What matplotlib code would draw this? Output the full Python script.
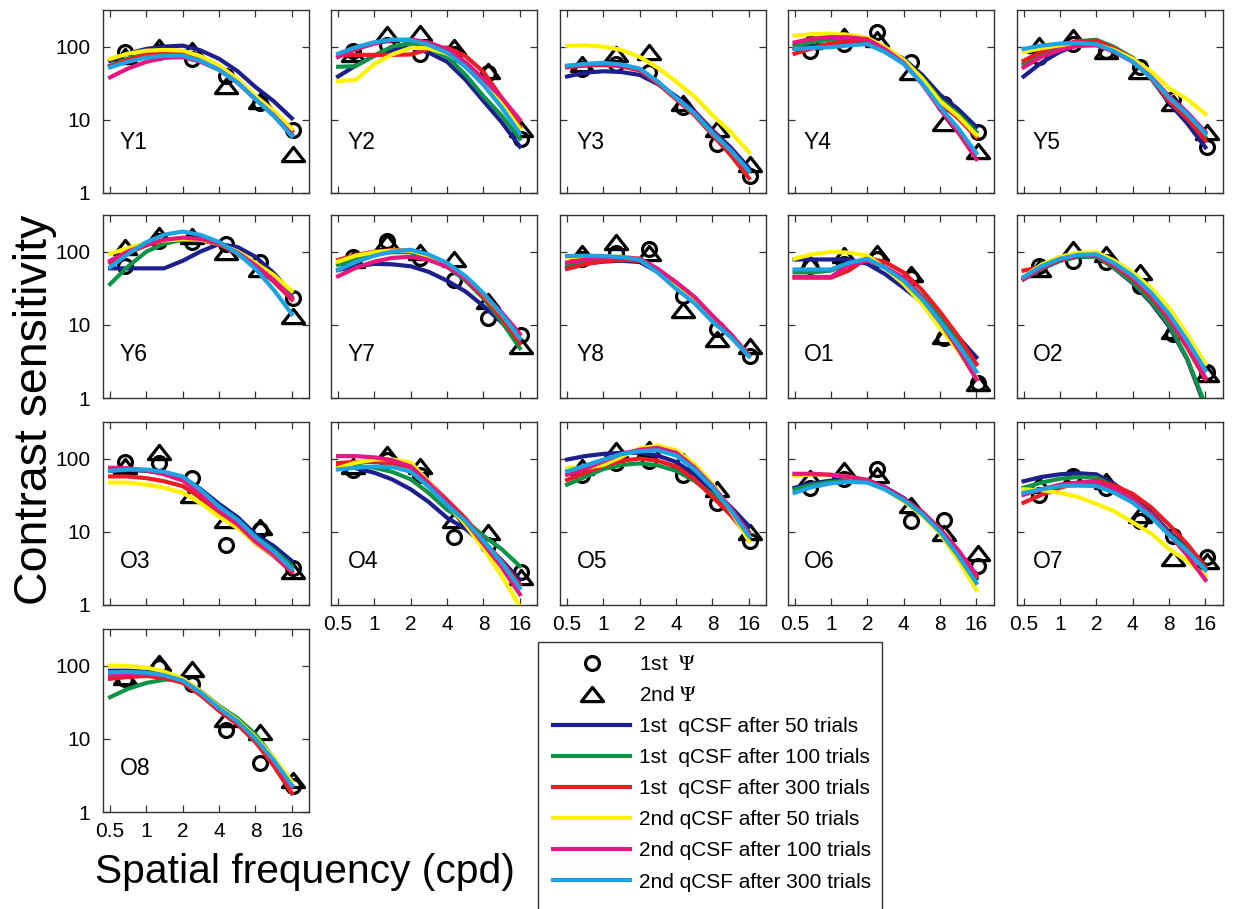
import matplotlib
matplotlib.use("Agg")
import matplotlib.pyplot as plt
from matplotlib.lines import Line2D
from matplotlib.patches import Rectangle
from matplotlib.path import Path

plt.rcParams["font.family"] = ["Liberation Sans", "DejaVu Sans"]
plt.rcParams["mathtext.fontset"] = "stix"

# frequencies (cpd) of the psi measurements and of the sampled qCSF curves
psi_freq = [0.67, 1.28, 2.4, 4.6, 8.7, 16.5]
curve_freq = [0.5, 0.7, 1, 1.4, 2, 2.8, 4, 5.7, 8, 11.3, 16]

series_labels = ["1st  qCSF after 50 trials", "1st  qCSF after 100 trials",
                 "1st  qCSF after 300 trials", "2nd qCSF after 50 trials",
                 "2nd qCSF after 100 trials", "2nd qCSF after 300 trials"]
series_colors = ["#1c1f8c", "#0e9447", "#ec1c24", "#fff200", "#e6177f", "#1ca3e2"]

# each qcsf list: 1st 50, 1st 100, 1st 300, 2nd 50, 2nd 100, 2nd 300
y1_first = [85, 85, 68, 40, 17, 7.2]
y1_second = [75, 100, 90, 29, 18, 3.4]
y1_qcsf = [[64, 80, 93, 100, 103, 89, 68, 46, 28, 18, 10.5],
           [55, 68, 80, 86, 86, 71, 52, 34, 20, 12.5, 7],
           [54, 66, 78, 84, 84, 70, 52, 34, 20, 12.5, 7],
           [68, 80, 88, 90, 88, 74, 55, 36, 21, 13.3, 7.5],
           [38, 50, 62, 70, 72, 62, 48, 32, 19, 11.6, 6.3],
           [52, 62, 71, 75, 75, 64, 48, 32, 19, 11.3, 6]]

y2_first = [88, 105, 80, 80, 44, 5.5]
y2_second = [78, 150, 155, 98, 47, 7.5]
y2_qcsf = [[39, 55, 75, 90, 98, 83, 62, 35, 18, 9.3, 4.3],
           [53, 54, 76, 100, 112, 95, 72, 41, 21, 11.4, 5.5],
           [77, 77, 77, 77, 78, 92, 97, 74, 45, 20, 8],
           [34, 35, 58, 78, 96, 95, 80, 54.5, 33, 16.7, 7.5],
           [72, 92, 110, 122, 125, 114, 92, 61, 36, 20, 10],
           [80, 98, 115, 125, 122, 106, 82, 52.5, 30, 14.8, 6.5]]

y3_first = [50, 58, 45, 15, 4.6, 1.7]
y3_second = [57, 80, 85, 17, 7.5, 2.5]
y3_qcsf = [[39, 44, 46, 45, 41, 31, 21, 13, 7.2, 4.2, 2.2],
           [53, 56, 57, 55, 48, 32.8, 20, 12.4, 6.8, 3.9, 2.0],
           [52, 55, 56, 54, 47, 31.7, 19, 11.5, 6.2, 3.3, 1.6],
           [103, 104, 100, 90, 72, 51.7, 33, 20.6, 11.5, 6.8, 3.6],
           [53, 57, 58, 56, 49, 33.2, 20, 12.4, 6.8, 3.9, 2.0],
           [55, 58, 60, 57, 50, 33.5, 20, 12.1, 6.5, 3.8, 2.0]]

y4_first = [88, 108, 157, 61, 16.5, 6.8]
y4_second = [121, 140, 127, 45, 9, 3.7]
y4_qcsf = [[93, 100, 108, 113, 114, 93, 68, 41, 22, 14, 8],
           [103, 115, 125, 128, 125, 96, 66, 37.5, 19, 12, 6.8],
           [80, 95, 110, 120, 122, 92, 62, 34.4, 17, 10.5, 5.8],
           [141, 148, 150, 145, 132, 99, 66, 36.5, 18, 11.2, 6.2],
           [114, 128, 135, 134, 126, 92, 60, 30.7, 14, 6.75, 2.9],
           [93, 96, 98, 104, 108, 84, 58, 31.3, 15, 7.7, 3.5]]

y5_first = [71, 109, 88, 52, 19, 4.2]
y5_second = [105, 135, 88, 47, 17, 6.8]
y5_qcsf = [[39, 60, 85, 105, 115, 95, 70, 36.6, 17, 9, 4.2],
           [58, 80, 102, 118, 124, 99, 70, 37.6, 18, 10.8, 5.8],
           [64, 85, 105, 118, 120, 95, 67, 36.8, 18, 10.3, 5.2],
           [84, 95, 104, 108, 107, 90, 68, 45.4, 27, 19, 12],
           [52, 72, 90, 102, 104, 85, 62, 38.2, 21, 12.7, 6.8],
           [93, 103, 110, 112, 108, 86.7, 62, 37.3, 20, 12, 6.4]]

y6_first = [64, 141, 136, 127, 71, 23]
y6_second = [115, 170, 165, 98, 58, 13]
y6_qcsf = [[59, 59, 59, 59, 75, 100, 127, 115, 85, 51, 27],
           [36, 62, 100, 128, 145, 143, 125, 95.5, 65, 41.9, 24],
           [71, 95, 122, 142, 152, 146, 125, 93, 62, 39, 22],
           [93, 112, 130, 142, 148, 146, 128, 100, 70, 47.8, 29],
           [75, 100, 125, 145, 155, 149, 128, 96.7, 65, 41, 23],
           [61, 92, 135, 170, 188, 169, 135, 93.8, 58, 30.2, 14]]

y7_first = [85, 140, 81, 41, 12.3, 7.3]
y7_second = [77, 135, 100, 80, 21, 5.1]
y7_qcsf = [[56, 63, 68, 67, 63, 53, 40, 28.4, 18, 10.8, 5.8],
           [66, 80, 92, 98, 98, 82.6, 62, 40, 23, 11.1, 4.8],
           [77, 90, 100, 105, 103, 86.7, 65, 41.9, 24, 12.3, 5.6],
           [73, 88, 98, 103, 103, 87.4, 66, 43.9, 26, 14.1, 6.8],
           [46, 60, 73, 82, 85, 77, 62, 42.6, 26, 14.8, 7.5],
           [56, 72, 88, 100, 106, 91.3, 70, 46, 27, 14, 6.5]]

y8_first = [78, 95, 110, 25, 8.7, 3.8]
y8_second = [95, 135, 97, 16, 6.4, 5.2]
y8_qcsf = [[60, 68, 73, 75, 72, 53, 35, 21.7, 12, 7.2, 3.8],
           [66, 74, 79, 80, 77, 57.3, 38, 23.6, 13, 7.45, 3.8],
           [58, 67, 74, 77, 75, 55.8, 37, 23.2, 13, 7.45, 3.8],
           [83, 85, 86, 85, 80, 56, 35, 21.7, 12, 7.2, 3.8],
           [71, 78, 83, 84, 80, 58.4, 38, 23.8, 13.3, 7.5, 3.8],
           [87, 88, 87, 84, 77, 51.8, 31, 19.6, 11, 6.8, 3.7]]

o1_first = [63, 67, 80, 44, 6.7, 1.6]
o1_second = [67, 90, 95, 49, 7, 1.6]
o1_qcsf = [[78, 78, 78, 78, 68, 49.4, 32, 20.3, 11.5, 6.8, 3.6],
           [52, 52, 55, 68, 76, 59.9, 42, 24.3, 12.5, 6.4, 2.9],
           [44, 44, 44, 55, 82, 72, 52, 29.6, 15, 7, 2.9],
           [80, 92, 99, 97, 88, 59.7, 36, 19.1, 9, 4.4, 1.9],
           [45, 45, 45, 65, 76, 61.3, 44, 23.3, 11, 4.7, 1.8],
           [57, 57, 57, 70, 80, 60, 40, 22.2, 11, 5.3, 2.3]]

o2_first = [63, 74, 71, 34, 7.5, 2.3]
o2_second = [57, 108, 92, 52, 8.3, 2.1]
o2_qcsf = [[42, 58, 75, 85, 86, 59.8, 37, 19.9, 9.5, 3.4, 0.75],
           [42, 58, 75, 85, 86, 60.6, 38, 20.7, 10, 3.5, 0.8],
           [55, 62, 78, 87, 88, 64.4, 42, 23.8, 12, 4.9, 1.8],
           [45, 66, 85, 96, 98, 75.7, 52, 31.5, 17, 7.4, 2.9],
           [42, 60, 78, 88, 90, 66.7, 44, 25, 12.6, 5.2, 1.9],
           [45, 63, 80, 90, 92, 69.7, 47, 27.2, 14, 6.1, 2.4]]

o3_first = [90, 87, 54, 6.7, 10.7, 3.2]
o3_second = [80, 122, 32, 14.5, 11.5, 2.9]
o3_qcsf = [[68, 70, 68, 63, 55, 38.5, 24, 15.8, 9.2, 6.4, 4.0],
           [70, 71, 69, 63, 54, 36.5, 22, 14.5, 8.5, 5.7, 3.4],
           [57, 57, 54, 49, 42, 29.1, 18, 11.9, 7, 4.7, 2.8],
           [47, 47, 44, 40, 34, 24.7, 16, 11.2, 7, 4.86, 3.0],
           [75, 74, 69, 61, 50, 32.7, 19, 12.5, 7.3, 4.9, 2.9],
           [68, 71, 71, 66, 57, 37.5, 22, 14.5, 8.5, 5.4, 3.1]]

o4_first = [70, 95, 60, 8.5, 6.6, 2.8]
o4_second = [78, 115, 78, 14.5, 10, 2.4]
o4_qcsf = [[78, 74, 64, 52, 38, 25.7, 15.5, 10.9, 6.8, 4.1, 2.2],
           [82, 80, 75, 66, 52, 34.2, 20, 14.1, 8.8, 5.8, 3.4],
           [87, 90, 90, 86, 76, 48, 27, 15.1, 7.5, 4, 1.9],
           [74, 88, 97, 98, 88, 48.7, 24, 12.5, 5.8, 2.5, 0.95],
           [108, 108, 104, 95, 78, 46.8, 25, 13.8, 6.8, 3.3, 1.4],
           [71, 75, 78, 77, 66, 41.3, 23, 13.9, 7.5, 3.8, 1.7]]

o5_first = [60, 87, 92, 60, 25, 7.5]
o5_second = [77, 130, 135, 92, 38, 9.8]
o5_qcsf = [[97, 108, 116, 120, 120, 110, 90, 60.3, 36, 22, 12],
           [44, 56, 72, 82, 86, 81, 68, 49.4, 32, 19, 10],
           [51, 64, 80, 93, 100, 93.6, 78, 51.3, 30, 16.9, 8.5],
           [74, 74, 82, 105, 138, 150, 130, 83, 45, 19.5, 7.5],
           [60, 72, 92, 115, 132, 140, 120, 75, 42, 21.2, 9.5],
           [67, 80, 97, 115, 126, 130, 110, 70.3, 40, 19.8, 8.7]]

o6_first = [40, 52, 71, 14, 14.7, 3.4]
o6_second = [54, 70, 60, 23, 9.7, 5.2]
o6_qcsf = [[40, 46, 50, 52, 51, 40.8, 29, 18.5, 10.5, 5.2, 2.3],
           [38, 44, 48, 50, 49, 39.3, 28, 18.2, 10.5, 5.3, 2.4],
           [60, 61, 60, 57, 51, 40, 28, 18.6, 11, 5.6, 2.5],
           [58, 61, 60, 56, 49, 37.8, 26, 16.7, 9.5, 4.1, 1.6],
           [62, 62, 60, 56, 50, 39.7, 28, 18.4, 10.8, 5.6, 2.6],
           [34, 41, 46, 48, 47, 37.8, 27, 17.4, 10, 4.7, 2.0]]

o7_first = [32, 58, 40, 14, 8.8, 4.5]
o7_second = [44, 55, 49, 17, 4.4, 4]
o7_qcsf = [[49, 56, 61, 63, 61, 45.3, 30, 18.4, 10, 6, 3.2],
           [40, 47, 53, 56, 55, 41.6, 28, 17.3, 9.5, 5.7, 3.0],
           [25, 32, 40, 46, 50, 43, 33, 21.5, 12.5, 6.8, 3.3],
           [38, 37, 34, 30, 24, 19.1, 13.5, 9.4, 5.8, 4.0, 2.5],
           [32, 38, 44, 47, 48, 38.9, 28, 17.1, 9.3, 4.8, 2.2],
           [34, 38, 42, 43, 42, 34.3, 25, 15.9, 9, 5.5, 3.0]]

o8_first = [66, 95, 56, 13, 4.6, 2.3]
o8_second = [69, 110, 90, 18.7, 12.3, 2.7]
o8_qcsf = [[85, 85, 82, 75, 62, 42.6, 26, 17.1, 10, 5.1, 2.3],
           [37, 48, 58, 64, 65, 45.2, 28, 19, 11.5, 5.45, 2.3],
           [66, 70, 72, 68, 58, 39.5, 24, 15.6, 9, 4.3, 1.8],
           [100, 99, 94, 83, 66, 44.7, 27, 17.8, 10.5, 5.5, 2.6],
           [73, 76, 77, 73, 62, 42.6, 26, 17.1, 10, 5.0, 2.2],
           [81, 82, 80, 74, 62, 42.6, 26, 17.1, 10, 5.1, 2.3]]

panels = [("Y1", y1_first, y1_second, y1_qcsf), ("Y2", y2_first, y2_second, y2_qcsf),
          ("Y3", y3_first, y3_second, y3_qcsf), ("Y4", y4_first, y4_second, y4_qcsf),
          ("Y5", y5_first, y5_second, y5_qcsf), ("Y6", y6_first, y6_second, y6_qcsf),
          ("Y7", y7_first, y7_second, y7_qcsf), ("Y8", y8_first, y8_second, y8_qcsf),
          ("O1", o1_first, o1_second, o1_qcsf), ("O2", o2_first, o2_second, o2_qcsf),
          ("O3", o3_first, o3_second, o3_qcsf), ("O4", o4_first, o4_second, o4_qcsf),
          ("O5", o5_first, o5_second, o5_qcsf), ("O6", o6_first, o6_second, o6_qcsf),
          ("O7", o7_first, o7_second, o7_qcsf), ("O8", o8_first, o8_second, o8_qcsf)]

W, H = 1233, 909
fig = plt.figure(figsize=(W / 100, H / 100), dpi=100)

col_left = [103, 331, 560, 787.5, 1016.5]
row_top = [10, 215, 422, 629]
ax_w, ax_h = 206, 183

# wide, flat open triangle like the original
tri = Path([(-1, -0.64), (1, -0.64), (0, 0.64), (-1, -0.64)],
           [Path.MOVETO, Path.LINETO, Path.LINETO, Path.CLOSEPOLY])
circ_style = dict(ls="none", marker="o", ms=10, mfc="none", mec="k", mew=2.3)
tri_style = dict(ls="none", marker=tri, ms=16, mfc="none", mec="k", mew=2.3)

for i, (name, first, second, qcsf) in enumerate(panels):
    row, col = divmod(i, 5)
    ax = fig.add_axes([col_left[col] / W, 1 - (row_top[row] + ax_h) / H, ax_w / W, ax_h / H])
    ax.plot(psi_freq, first, zorder=2, **circ_style)
    ax.plot(psi_freq, second, zorder=2, **tri_style)
    for vals, c in zip(qcsf, series_colors):
        ax.plot(curve_freq, vals, color=c, lw=3, zorder=3)
    ax.set_xscale("log")
    ax.set_yscale("log")
    ax.set_xlim(0.437, 22.2)
    ax.set_ylim(1, 316)
    ax.set_xticks([0.5, 1, 2, 4, 8, 16])
    ax.set_xticklabels(["0.5", "1", "2", "4", "8", "16"])
    ax.set_yticks([1, 10, 100])
    ax.set_yticklabels(["1", "10", "100"])
    ax.minorticks_off()
    ax.tick_params(direction="in", length=5, width=0.9, top=True, right=True,
                   labelsize=15, color="#333333")
    ax.tick_params(axis="y", pad=9)
    ax.tick_params(axis="x", pad=7)
    if col != 0:
        ax.tick_params(axis="y", labelleft=False)
    if i not in (11, 12, 13, 14, 15):
        ax.tick_params(axis="x", labelbottom=False)
    for sp in ax.spines.values():
        sp.set_color("#333333")
        sp.set_linewidth(1.0)
    ax.text(0.08, 0.275 if row == 0 else 0.24, name, transform=ax.transAxes,
            fontsize=16.5, va="center", ha="left")

fig.text(35 / W, 1 - 410 / H, "Contrast sensitivity", rotation=90,
         ha="center", va="center", fontsize=33.5)
fig.text(95 / W, 1 - 883 / H, "Spatial frequency (cpd)", ha="left",
         va="baseline", fontsize=29.3)

handles = [Line2D([], [], **circ_style), Line2D([], [], **tri_style)]
handles += [Line2D([], [], color=c, lw=3) for c in series_colors]
labels = ["1st  $\\Psi$", "2nd $\\Psi$"] + series_labels
fig.legend(handles, labels, loc="upper left", bbox_to_anchor=(553 / W, 1 - 655 / H),
           frameon=False, fontsize=15, handlelength=3.7, handletextpad=0.45,
           labelspacing=0.58, borderpad=0, borderaxespad=0)
fig.add_artist(Rectangle((538 / W, -0.05), (882 - 538) / W, 0.05 + (909 - 642) / H,
                         transform=fig.transFigure, fill=False, ec="#333333", lw=1.0))

fig.savefig("out.png", dpi=100)
